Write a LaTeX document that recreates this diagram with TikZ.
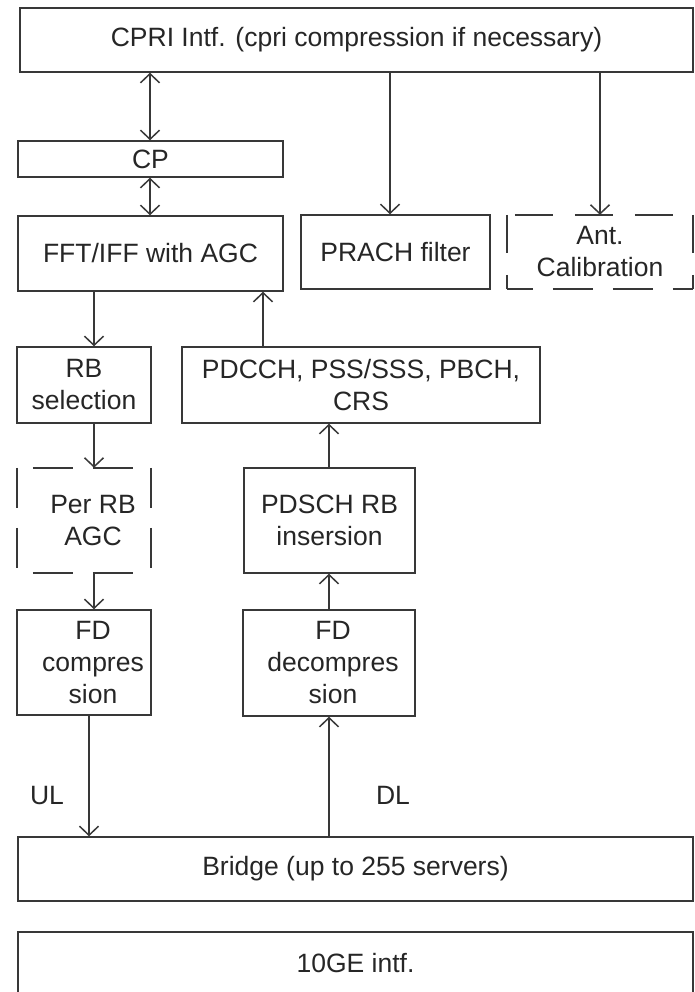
\documentclass[tikz,border=0pt]{standalone}
\usepackage{fontspec}
\setmainfont{Liberation Sans}
\usetikzlibrary{arrows.meta}
\begin{document}
\begin{tikzpicture}[x=1pt,y=-1pt,
  every node/.style={font=\fontsize{26.5}{32}\selectfont, text=black!85},
  blk/.style={draw=black!78, line width=1.5pt, inner sep=2pt, align=center},
  ghost/.style={inner sep=2pt, align=center},
  wire/.style={draw=black!78, line width=1.5pt},
  longdash/.style={draw=black!78, line width=1.5pt, dash pattern=on 38pt off 22pt},
  >={Straight Barb[length=9pt,width=19pt]}
]
\clip (0,0) rectangle (694,992);
\fill[white] (0,0) rectangle (694,992);

% blocks
\node[blk, minimum width=673pt, minimum height=64pt] (cpri) at (356.5,40) {CPRI Intf. (cpri compression if necessary)};
\node[blk, minimum width=265pt, minimum height=36pt] (cp) at (150.5,159) {CP};
\node[blk, minimum width=265pt, minimum height=75pt] (fft) at (150.5,253.5) {FFT/IFF with AGC};
\node[blk, minimum width=189pt, minimum height=74pt] (prach) at (395.5,252) {PRACH filter};
\node[ghost, minimum width=186pt, minimum height=74pt] (ant) at (600,252) {Ant.\\Calibration};
\node[blk, minimum width=134pt, minimum height=76pt] (rbsel) at (84,385) {RB\\selection};
\node[blk, minimum width=358pt, minimum height=76pt] (pdcch) at (361,385) {PDCCH, PSS/SSS, PBCH,\\CRS};
\node[ghost, minimum width=134pt, minimum height=105pt] (perrb) at (84,520.5) {\hspace*{18pt}Per RB\\\hspace*{18pt}AGC};
\node[blk, minimum width=171pt, minimum height=105pt] (pdsch) at (329.5,520.5) {PDSCH RB\\insersion};
\node[blk, minimum width=134pt, minimum height=105pt] (fdc) at (84,662.5) {\hspace*{18pt}FD\\\hspace*{18pt}compres\\\hspace*{18pt}sion};
\node[blk, minimum width=172pt, minimum height=106pt] (fdd) at (329,663) {\hspace*{8pt}FD\\\hspace*{8pt}decompres\\\hspace*{8pt}sion};
\node[blk, minimum width=675pt, minimum height=64pt] (bridge) at (355.5,869) {Bridge (up to 255 servers)};
\node[blk, minimum width=675pt, minimum height=63pt] (tenge) at (355.5,963.5) {10GE intf.};

% dashed outlines of the optional blocks
\draw[longdash, dash phase=52pt] (ant.north west) -- (ant.north east);
\draw[longdash, dash pattern=on 40pt off 20pt, dash phase=14pt] (ant.south west) -- (ant.south east);
\draw[longdash] (ant.north west) -- (ant.south west);
\draw[longdash] (ant.north east) -- (ant.south east);
\draw[longdash, dash pattern=on 40pt off 20pt, dash phase=44pt] (perrb.north west) -- (perrb.north east);
\draw[longdash, dash pattern=on 40pt off 20pt, dash phase=44pt] (perrb.south west) -- (perrb.south east);
\draw[longdash, dash pattern=on 40pt off 20pt] (perrb.north west) -- (perrb.south west);
\draw[longdash, dash pattern=on 40pt off 20pt] (perrb.north east) -- (perrb.south east);

% connectors
\draw[wire,<->] (cpri.south -| 150,0) -- (cp.north -| 150,0);
\draw[wire,<->] (cp.south -| 150,0) -- (fft.north -| 150,0);
\draw[wire,->] (cpri.south -| 390,0) -- (prach.north -| 390,0);
\draw[wire,->] (cpri.south -| ant.north) -- (ant.north);
\draw[wire,->] (fft.south -| 94,0) -- (rbsel.north -| 94,0);
\draw[wire,->] (pdcch.north -| 263,0) -- (fft.south -| 263,0);
\draw[wire,->] (rbsel.south -| 94,0) -- (perrb.north -| 94,0);
\draw[wire,->] (perrb.south -| 94,0) -- (fdc.north -| 94,0);
\draw[wire,->] (pdsch.north -| 329,0) -- (pdcch.south -| 329,0);
\draw[wire,->] (fdd.north -| 329,0) -- (pdsch.south -| 329,0);
\draw[wire,->] (fdc.south -| 89,0) -- (bridge.north -| 89,0);
\draw[wire,->] (bridge.north -| 329,0) -- (fdd.south -| 329,0);

% direction labels
\node[anchor=base] (ul) at (47,804) {UL};
\node[anchor=base] (dl) at (393,804) {DL};
\end{tikzpicture}
\end{document}
